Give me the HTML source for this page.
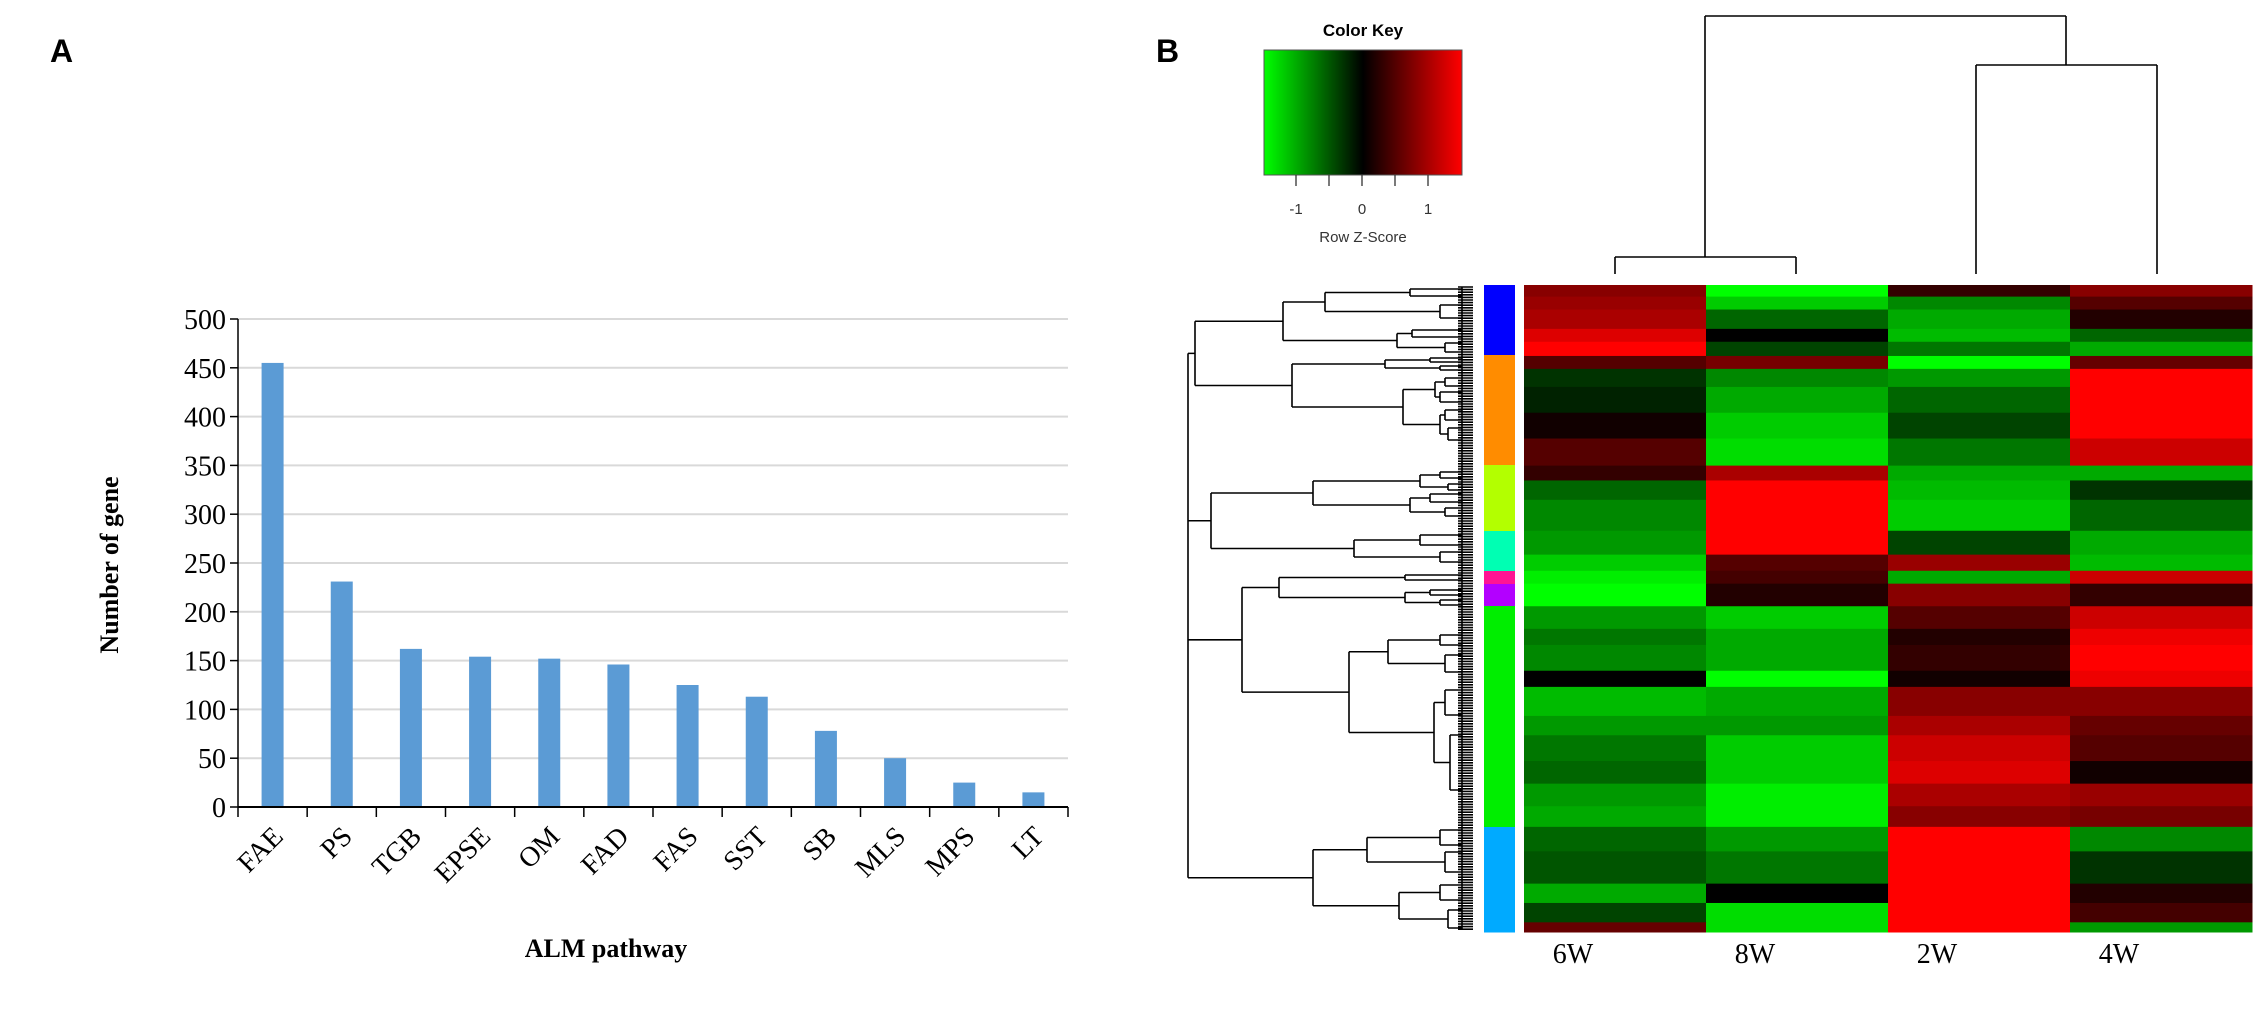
<!DOCTYPE html>
<html><head><meta charset="utf-8"><style>
html,body{margin:0;padding:0;background:#fff;}
svg{display:block;}
</style></head><body>
<svg id="fig" width="2262" height="1009" viewBox="0 0 2262 1009" xmlns="http://www.w3.org/2000/svg">
<defs>
<linearGradient id="kg" x1="0" x2="1" y1="0" y2="0">
<stop offset="0" stop-color="#00ff00"/><stop offset="0.5" stop-color="#000000"/><stop offset="1" stop-color="#ff0000"/>
</linearGradient>
</defs>
<text x="50" y="62" font-family="Liberation Sans, sans-serif" font-weight="bold" font-size="32">A</text>
<text x="1156" y="62" font-family="Liberation Sans, sans-serif" font-weight="bold" font-size="32">B</text>
<g id="barChart"></g>
<g id="heat"></g>
<g id="rowDendro" stroke="#000" stroke-width="1.6" fill="none"></g>
<g id="colDendro" stroke="#000" stroke-width="1.6" fill="none">
<path d="M1705 16 H2066 M1705 16 V257 M1615 257 H1796 M1615 257 V274 M1796 257 V274 M2066 16 V65 M1976 65 H2157 M1976 65 V274 M2157 65 V274"/>
</g>
<g>
<text x="1363" y="36" text-anchor="middle" font-family="Liberation Sans, sans-serif" font-weight="bold" font-size="17">Color Key</text>
<rect x="1264" y="50" width="198" height="125" fill="url(#kg)" stroke="#555" stroke-width="1"/>
<g id="keyTicks" stroke="#333" stroke-width="1.3"></g>
<text x="1363" y="242" text-anchor="middle" font-family="Liberation Sans, sans-serif" font-size="15" fill="#333">Row Z-Score</text>
</g>
</svg>
<script>
const NS='http://www.w3.org/2000/svg';
function mk(tag,attrs,parent){const e=document.createElementNS(NS,tag);for(const k in attrs)e.setAttribute(k,attrs[k]);parent.appendChild(e);return e;}

/* ---------- Panel A data ---------- */
const categories=['FAE','PS','TGB','EPSE','OM','FAD','FAS','SST','SB','MLS','MPS','LT'];
const geneCounts=[455,231,162,154,152,146,125,113,78,50,25,15];
const yTicks=[0,50,100,150,200,250,300,350,400,450,500];

const bc=document.getElementById('barChart');
const X0=238,X1=1068,Y0=807,Y1=319,YMAX=500;
const band=(X1-X0)/categories.length;
const yS=v=>Y0-v*(Y0-Y1)/YMAX;
const xS=i=>X0+band*(i+0.5);
yTicks.forEach(t=>{
  if(t>0){const g=mk('line',{x1:X0,x2:X1,y1:yS(t),y2:yS(t),stroke:'#d9d9d9','stroke-width':2},bc);
  
  }
  const tk=mk('line',{x1:X0-8,x2:X0,y1:yS(t),y2:yS(t),stroke:'#000','stroke-width':1.5},bc);
  
  
  const lb=mk('text',{x:X0-12,y:yS(t)+10,'text-anchor':'end','font-family':'Liberation Serif, serif','font-size':28},bc);
  lb.textContent=t;
  
  
});
geneCounts.forEach((v,i)=>{
  const r=mk('rect',{x:xS(i)-11,y:yS(v),width:22,height:Y0-yS(v),fill:'#5b9bd5'},bc);
  
  
});
mk('line',{x1:X0,x2:X0,y1:Y1,y2:Y0,stroke:'#000','stroke-width':1.5},bc);
mk('line',{x1:X0,x2:X1,y1:Y0,y2:Y0,stroke:'#000','stroke-width':2},bc);
for(let i=0;i<=categories.length;i++){
  const t=mk('line',{x1:X0+band*i,x2:X0+band*i,y1:Y0,y2:Y0+10,stroke:'#000','stroke-width':1.5},bc);
  
  
}
categories.forEach((c,i)=>{
  const x=xS(i)+12,y=838;
  const t=mk('text',{x:x,y:y,'text-anchor':'end','font-family':'Liberation Serif, serif','font-size':28,transform:`rotate(-45 ${x} ${y})`},bc);
  t.textContent=c;
  
  
});
const yt=mk('text',{x:0,y:0,'text-anchor':'middle','font-family':'Liberation Serif, serif','font-weight':'bold','font-size':26,transform:'translate(118 565) rotate(-90)'},bc);
yt.textContent='Number  of gene';


const xt=mk('text',{x:606,y:957,'text-anchor':'middle','font-family':'Liberation Serif, serif','font-weight':'bold','font-size':26},bc);
xt.textContent='ALM pathway';



/* ---------- Panel B data ---------- */
const columns=['6W','8W','2W','4W'];
const rowWeights=[18,20,30,20,22,20,28,40,40,42,23,30,48,37,25,20,35,35,25,40,25,45,30,40,35,35,32,38,50,30,30,15];
const z6W=[0.8,0.9,1.0,1.3,1.5,0.5,-0.3,-0.2,0.1,0.5,0.3,-0.6,-0.8,-0.9,-1.2,-1.4,-1.5,-0.9,-0.7,-0.8,0.0,-1.1,-0.9,-0.7,-0.6,-0.9,-1.0,-0.6,-0.5,-1.0,-0.4,0.6];
const z8W=[-1.5,-1.2,-0.6,0.0,-0.4,0.7,-0.8,-1.0,-1.2,-1.3,1.0,1.5,1.5,1.5,0.5,0.4,0.2,-1.2,-1.0,-1.0,-1.5,-1.0,-0.9,-1.2,-1.2,-1.4,-1.4,-0.9,-0.7,0.0,-1.3,-1.3];
const z2W=[0.3,-0.8,-1.0,-1.1,-0.7,-1.5,-0.9,-0.6,-0.4,-0.7,-1.0,-1.1,-1.2,-0.4,0.9,-1.0,0.8,0.5,0.2,0.3,0.1,0.8,1.0,1.2,1.3,1.0,0.8,1.5,1.5,1.5,1.5,1.5];
const z4W=[0.8,0.5,0.2,-0.6,-1.0,0.6,1.5,1.5,1.5,1.2,-1.0,-0.3,-0.6,-1.0,-1.1,1.2,0.3,1.2,1.4,1.5,1.4,0.8,0.6,0.5,0.1,0.9,0.7,-0.8,-0.3,0.2,0.4,-0.9];
const zCols=[z6W,z8W,z2W,z4W];
const clusterNames=['blue','orange','lime','aquamarine','pink','purple','green','light-blue'];
const clusterColors=['#0000ff','#ff8c00','#b3ff00','#00ffb3','#ff1493','#b300ff','#00ee00','#00aaff'];
const clusterSizes=[70,110,66,40,13,22,221,105];
const keyTicks=[-1,-0.5,0,0.5,1];
const keyLabels=[-1,0,1];

function zColor(v){v=Math.max(-1.5,Math.min(1.5,v));const a=Math.round(255*Math.abs(v)/1.5);return v<0?`rgb(0,${a},0)`:`rgb(${a},0,0)`;}
const hm=document.getElementById('heat');
const HX0=1524,HX1=2252,HY0=285,HY1=932;
const colW=(HX1-HX0)/columns.length;
const totW=rowWeights.reduce((a,b)=>a+b,0);
let acc=0;
rowWeights.forEach((w,r)=>{
  const y=HY0+acc/totW*(HY1-HY0),h=w/totW*(HY1-HY0);acc+=w;
  zCols.forEach((col,c)=>{
    const cell=mk('rect',{x:HX0+c*colW,y:y,width:colW+0.5,height:h+0.5,fill:zColor(col[r])},hm);
    
    
  });
});
columns.forEach((c,i)=>{
  const t=mk('text',{x:HX0+colW*(i+0.5)-42,y:963,'text-anchor':'middle','font-family':'Liberation Serif, serif','font-size':28},hm);
  t.textContent=c;
  
  
});
const cTot=clusterSizes.reduce((a,b)=>a+b,0);
let ca=0;
clusterSizes.forEach((s,i)=>{
  const y=HY0+ca/cTot*(HY1-HY0);ca+=s;
  const r=mk('rect',{x:1484,y:y,width:31,height:s/cTot*(HY1-HY0)+0.5,fill:clusterColors[i]},hm);
  
  
});
/* color key ticks */
const kt=document.getElementById('keyTicks');
const kx=v=>1362+v*66;
keyTicks.forEach(v=>{const l=mk('line',{x1:kx(v),x2:kx(v),y1:175,y2:186},kt);
  
  });
keyLabels.forEach(v=>{const t=mk('text',{x:kx(v),y:214,'text-anchor':'middle','font-family':'Liberation Sans, sans-serif','font-size':15,fill:'#333',stroke:'none'},kt);
  t.textContent=v;
  
  });

/* row dendrogram */
const tree=[1188,
 [1195,[1283,[1325,[1410,289,296],[1440,305,318]],[1397,[1412,330,337],[1445,343,352]]],
       [1292,[1385,[1430,358,362],[1440,366,370]],[1403,[1435,[1445,378,386],[1440,392,402]],[1440,[1445,410,420],[1448,428,440]]]]],
 [1211,[1313,[1420,[1440,472,478],[1448,484,490]],[1410,[1430,494,502],[1445,508,516]]],
       [1354,[1420,535,545],[1440,552,562]]],
 [1242,[1279,[1405,575,580],[1405,[1430,590,595],[1440,600,605]]],
       [1349,[1388,[1440,635,645],[1445,655,672]],[1434,[1445,690,715],[1450,735,790]]]],
 [1313,[1367,[1440,830,845],[1445,852,872]],[1399,[1440,885,900],[1448,910,928]]]
];
let d='';
function draw(n){
  const x=n[0];const ys=[];
  for(let k=1;k<n.length;k++){
    const c=n[k];let cy,cx;
    if(typeof c==='number'){cy=c;cx=1462;}else{cy=draw(c);cx=c[0];}
    d+=`M${x} ${cy}H${cx}`;ys.push(cy);
  }
  const lo=Math.min(...ys),hi=Math.max(...ys);
  d+=`M${x} ${lo}V${hi}`;
  return (lo+hi)/2;
}
draw(tree);
for(let y=287;y<=930;y+=2.6){d+=`M1458 ${y.toFixed(1)}H1473`;}
d+='M1462 287V930';
const rp=mk('path',{d:d},document.getElementById('rowDendro'));


</script>
</body></html>
